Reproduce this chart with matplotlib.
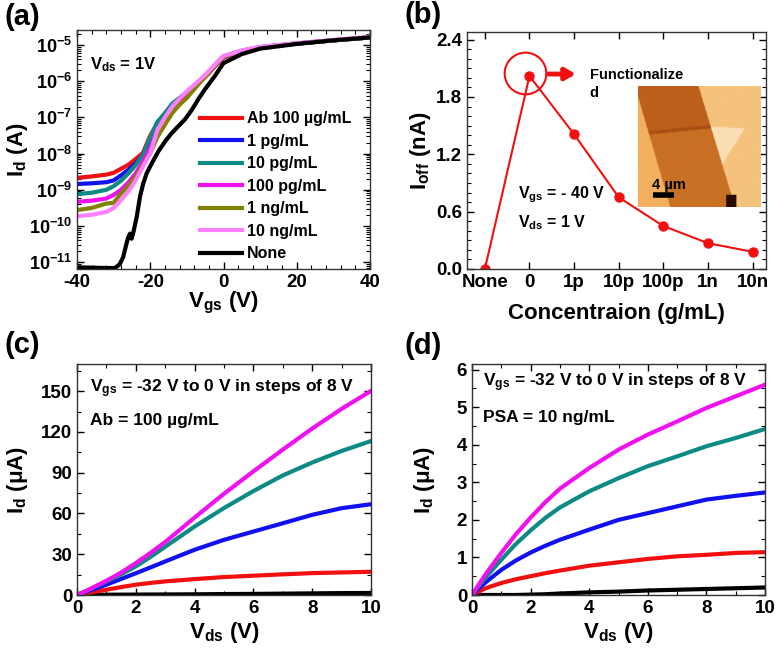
import numpy as np
import matplotlib
matplotlib.use("Agg")
import matplotlib.pyplot as plt
from matplotlib.ticker import MultipleLocator, FixedLocator, FuncFormatter, LogLocator, NullFormatter

SANS = ['Liberation Sans', 'DejaVu Sans']

plt.rcParams['font.family'] = SANS
plt.rcParams['font.weight'] = 'bold'
plt.rcParams['axes.labelweight'] = 'bold'
plt.rcParams['mathtext.fontset'] = 'custom'
plt.rcParams['mathtext.rm'] = 'Liberation Sans:bold'
plt.rcParams['mathtext.bf'] = 'Liberation Sans:bold'
plt.rcParams['mathtext.it'] = 'Liberation Sans:bold:italic'
plt.rcParams['axes.unicode_minus'] = False

# ---- (a) transfer curves, log10(Id / A) ----
vgs = [-40, -36, -32, -30, -28, -26, -24, -22, -20, -18, -16, -14, -12, -10,
       -8, -6, -4, -2, 0, 5, 10, 20, 30, 40]
log_ab = [-8.67, -8.63, -8.58, -8.53, -8.42, -8.31, -8.15, -7.98, -7.50, -7.15, -7.00, -6.78,
          -6.56, -6.37, -6.18, -5.98, -5.78, -5.55, -5.35, -5.18, -5.07, -4.96, -4.87, -4.79]
log_1pg = [-8.84, -8.82, -8.79, -8.74, -8.60, -8.45, -8.27, -8.04, -7.62, -7.13, -6.92, -6.70,
           -6.50, -6.33, -6.15, -5.95, -5.76, -5.53, -5.33, -5.17, -5.07, -4.96, -4.87, -4.79]
log_10pg = [-9.12, -9.08, -9.00, -8.90, -8.75, -8.55, -8.32, -8.04, -7.55, -7.12, -6.88, -6.62,
            -6.46, -6.30, -6.13, -5.94, -5.75, -5.52, -5.32, -5.16, -5.06, -4.96, -4.87, -4.79]
log_100pg = [-9.33, -9.30, -9.24, -9.14, -9.00, -8.80, -8.55, -8.22, -7.85, -7.34, -7.02, -6.74,
             -6.52, -6.32, -6.14, -5.95, -5.75, -5.52, -5.32, -5.16, -5.06, -4.96, -4.87, -4.79]
log_1ng = [-9.56, -9.50, -9.38, -9.36, -9.10, -8.90, -8.64, -8.32, -7.99, -7.53, -7.20, -6.88,
           -6.65, -6.46, -6.22, -5.98, -5.77, -5.53, -5.32, -5.16, -5.06, -4.96, -4.87, -4.79]
log_10ng = [-9.73, -9.69, -9.61, -9.50, -9.29, -9.05, -8.74, -8.36, -7.99, -7.34, -7.00, -6.70,
            -6.48, -6.28, -6.10, -5.92, -5.72, -5.50, -5.30, -5.15, -5.05, -4.95, -4.86, -4.77]
vgs_none = [-40, -36, -32, -29.6, -28.3, -27.4, -26.5, -26, -25.5, -25.1, -24.6, -23.7, -22.8,
            -21.9, -21, -19.6, -17.8, -16, -14.2, -12.4, -10.5, -8.7, -6.9, -5.1, -2.4, 0,
            5, 10, 20, 30, 40]
log_none = [-11.14, -11.15, -11.16, -11.16, -11.05, -10.86, -10.49, -10.31, -10.21, -10.35,
            -10.17, -9.75, -9.19, -8.82, -8.55, -8.27, -7.94, -7.67, -7.44, -7.25, -7.05,
            -6.80, -6.50, -6.23, -5.86, -5.50, -5.25, -5.10, -4.97, -4.87, -4.79]

series_a = [("Ab 100 \u00b5g/mL", log_ab, "#f01010"),
            ("1 pg/mL", log_1pg, "#1010f0"),
            ("10 pg/mL", log_10pg, "#0e8a84"),
            ("100 pg/mL", log_100pg, "#f010f0"),
            ("1 ng/mL", log_1ng, "#828200"),
            ("10 ng/mL", log_10ng, "#ff80ff")]

# ---- (b) off current vs concentration ----
conc = ["None", "0", "1p", "10p", "100p", "1n", "10n"]
ioff = [0.0, 2.02, 1.41, 0.75, 0.45, 0.27, 0.18]

# ---- (c), (d) output curves, Vgs = -32, -24, -16, -8, 0 V ----
vds = [0, 0.25, 0.5, 1, 1.5, 2, 2.5, 3, 4, 5, 6, 7, 8, 9, 10]
c_m32 = [0, 0.05, 0.1, 0.2, 0.25, 0.3, 0.35, 0.4, 0.5, 0.7, 0.8, 1.0, 1.2, 1.4, 1.5]
c_m24 = [0, 1.0, 2.0, 3.9, 5.8, 7.6, 8.9, 10.0, 11.7, 13.2, 14.2, 15.2, 16.1, 16.6, 17.1]
c_m16 = [0, 1.9, 3.8, 7.6, 11.8, 16.0, 20.3, 24.7, 33.3, 40.6, 46.7, 52.8, 59.0, 63.9, 66.8]
c_m8 = [0, 2.4, 4.8, 10.0, 15.2, 21.0, 28.0, 35.5, 50.4, 64.0, 76.5, 88.0, 97.5, 106.0, 113.3]
c_0 = [0, 2.4, 5.0, 10.5, 16.5, 23.5, 31.0, 39.0, 57.0, 74.5, 91.0, 107.0, 122.5, 137.0, 150.2]
d_m32 = [0, 0.0, 0.0, 0.0, 0.0, 0.01, 0.02, 0.04, 0.07, 0.09, 0.12, 0.14, 0.16, 0.18, 0.20]
d_m24 = [0, 0.10, 0.19, 0.32, 0.42, 0.50, 0.58, 0.65, 0.78, 0.87, 0.96, 1.03, 1.07, 1.12, 1.14]
d_m16 = [0, 0.19, 0.36, 0.67, 0.92, 1.13, 1.31, 1.47, 1.74, 2.00, 2.18, 2.36, 2.54, 2.64, 2.73]
d_m8 = [0, 0.26, 0.50, 0.94, 1.36, 1.72, 2.05, 2.33, 2.76, 3.11, 3.43, 3.69, 3.96, 4.18, 4.42]
d_0 = [0, 0.30, 0.59, 1.12, 1.62, 2.06, 2.47, 2.83, 3.38, 3.87, 4.27, 4.62, 4.98, 5.29, 5.60]
out_colors = ["black", "#f01010", "#1010f0", "#0e8a84", "#f010f0"]

W, H = 778, 651
fig = plt.figure(figsize=(W / 100, H / 100), dpi=100)


def add_ax(left, top, right, bottom):
    return fig.add_axes([left / W, 1 - bottom / H, (right - left) / W, (bottom - top) / H])


def style(ax):
    ax.tick_params(which='both', direction='in', top=True, right=True, labelsize=13.5)
    ax.tick_params(which='major', length=5, width=1)
    ax.tick_params(which='minor', length=3, width=0.8)
    for s in ax.spines.values():
        s.set_linewidth(1)
        s.set_color('#333333')
    for lab in ax.get_xticklabels() + ax.get_yticklabels():
        lab.set_fontweight('bold')


def labels(ax, xl, yl, xpos, ypos):
    ax.set_xlabel(xl, fontsize=16, fontweight='bold', va='top')
    ax.set_ylabel(yl, fontsize=16, fontweight='bold')
    ax.xaxis.set_label_coords(0.5, xpos)
    ax.yaxis.set_label_coords(ypos, 0.5)


def panel(x, y, s):
    fig.text(x / W, 1 - y / H, s, fontsize=21, fontweight='bold', va='center')


# (a)
ax = add_ax(77, 30, 370, 269)
for name, vals, col in series_a:
    ax.plot(vgs, 10.0 ** np.array(vals), color=col, lw=3, label=name)
ax.plot(vgs_none, 10.0 ** np.array(log_none), color='black', lw=3, label='None')
ax.set_yscale('log')
ax.set_xlim(-40, 40)
ax.set_ylim(6.5e-12, 2.6e-5)
ax.xaxis.set_major_locator(MultipleLocator(20))
ax.xaxis.set_minor_locator(MultipleLocator(4))
ax.yaxis.set_major_locator(LogLocator(base=10, numticks=20))
ax.yaxis.set_minor_locator(LogLocator(base=10, subs=np.arange(2, 10), numticks=20))
ax.yaxis.set_minor_formatter(NullFormatter())
ax.yaxis.set_major_formatter(FuncFormatter(lambda v, p: r'$\rm 10^{%d}$' % round(np.log10(v))))
style(ax)
ax.tick_params(axis='y', labelsize=13)
labels(ax, r'V$_{\rm gs}$ (V)', r'I$_{\rm d}$ (A)', -0.088, -0.16)
ax.text(-36.5, 2.8e-6, r'V$_{\rm ds}$ = 1V', fontsize=12, fontweight='bold', va='center')
ax.legend(loc='upper left', bbox_to_anchor=(0.42, 0.66), frameon=False,
          handlelength=2.6, handletextpad=0.35, labelspacing=0.47, borderpad=0, borderaxespad=0,
          prop={'weight': 'bold', 'size': 11.5})
panel(4, 17, '(a)')

# (b)
ax = add_ax(467, 32, 766, 269)
xb = np.arange(len(conc))
ax.plot(xb, ioff, color='#f01010', lw=1.5, marker='o', markersize=6.5)
ax.plot([0.9], [2.05], marker='o', markersize=30, markerfacecolor='none',
        markeredgecolor='#f01010', markeredgewidth=1.5)
ax.annotate('', xy=(2.1, 2.04), xytext=(1.35, 2.04),
            arrowprops=dict(arrowstyle='-|>,head_length=0.6,head_width=0.35', lw=3.5,
                            color='#f01010'))
ax.text(2.35, 1.94, 'Functionalize\nd', fontsize=10.5, fontweight='bold', va='center',
        linespacing=1.35)
ax.text(0.75, 0.775, r'V$_{\rm gs}$ = - 40 V', fontsize=11.5, fontweight='bold', va='center')
ax.text(0.75, 0.49, r'V$_{\rm ds}$ = 1 V', fontsize=11.5, fontweight='bold', va='center')
ax.set_xlim(-0.4, 6.3)
ax.set_ylim(0, 2.48)
ax.set_xticks(xb)
ax.set_xticklabels(conc)
ax.yaxis.set_major_locator(FixedLocator([0.0, 0.6, 1.2, 1.8, 2.4]))
ax.yaxis.set_major_formatter(FuncFormatter(lambda v, p: '%.1f' % v))
ax.yaxis.set_minor_locator(MultipleLocator(0.1))
style(ax)
labels(ax, 'Concentraion (g/mL)', r'I$_{\rm off}$ (nA)', -0.143, -0.114)
panel(405, 15, '(b)')

# inset AFM picture in (b): flake band across the substrate
ins = fig.add_axes([638 / W, 1 - 207 / H, 123 / W, 121 / H])
yy, xx = np.mgrid[0:1:180j, 0:1:180j]
right_edge = 0.49 + 0.30 * yy
left_edge = 0.29 * (yy - 0.1)
img = np.zeros(xx.shape + (3,))
img[:] = np.array([242, 176, 96]) / 255
band = (xx >= left_edge) & (xx < right_edge)
img[band] = np.array([200, 112, 36]) / 255
ledge = 0.40 - 0.10 * xx
img[band & (yy < ledge)] = np.array([188, 96, 26]) / 255
img[band & (np.abs(yy - ledge) < 0.015)] = np.array([170, 80, 20]) / 255
right = xx >= right_edge
img[right] = np.array([245, 194, 125]) / 255
tri = right & (yy > 0.34 + 0.05 * (xx - 0.6)) & (xx < 0.88) & (yy < 0.34 + 1.6 * (0.88 - xx))
img[tri] = np.array([250, 222, 180]) / 255
img[(np.abs(xx - 0.76) < 0.04) & (yy > 0.9)] = np.array([40, 12, 0]) / 255
ins.imshow(img, extent=(0, 1, 0, 1), aspect='auto', interpolation='bilinear')
ins.plot([0.12, 0.29], [0.1, 0.1], color='black', lw=4, solid_capstyle='butt')
ins.text(0.11, 0.12, '4 \u00b5m', fontsize=10.5, fontweight='bold', va='bottom')
ins.set_xlim(0, 1)
ins.set_ylim(0, 1)
ins.axis('off')

# (c)
ax = add_ax(77, 364, 371, 595)
for vals, col in zip([c_m32, c_m24, c_m16, c_m8, c_0], out_colors):
    ax.plot(vds, vals, color=col, lw=3)
ax.set_xlim(0, 10)
ax.set_ylim(0, 170)
ax.xaxis.set_major_locator(MultipleLocator(2))
ax.xaxis.set_minor_locator(MultipleLocator(1))
ax.yaxis.set_major_locator(MultipleLocator(30))
ax.yaxis.set_minor_locator(MultipleLocator(15))
style(ax)
labels(ax, r'V$_{\rm ds}$ (V)', r'I$_{\rm d}$ ($\rm \mu$A)', -0.108, -0.16)
ax.text(0.44, 152, r'V$_{\rm gs}$ = -32 V to 0 V in steps of 8 V', fontsize=12.5,
        fontweight='bold', va='center')
ax.text(0.44, 128.5, 'Ab = 100 \u00b5g/mL', fontsize=12.5, fontweight='bold', va='center')
panel(4, 345, '(c)')

# (d)
ax = add_ax(472, 364, 765, 595)
for vals, col in zip([d_m32, d_m24, d_m16, d_m8, d_0], out_colors):
    ax.plot(vds, vals, color=col, lw=3)
ax.set_xlim(0, 10)
ax.set_ylim(0, 6.15)
ax.xaxis.set_major_locator(MultipleLocator(2))
ax.xaxis.set_minor_locator(MultipleLocator(1))
ax.yaxis.set_major_locator(MultipleLocator(1))
ax.yaxis.set_minor_locator(MultipleLocator(0.5))
style(ax)
labels(ax, r'V$_{\rm ds}$ (V)', r'I$_{\rm d}$ ($\rm \mu$A)', -0.108, -0.12)
ax.text(0.38, 5.65, r'V$_{\rm gs}$ = -32 V to 0 V in steps of 8 V', fontsize=12.5,
        fontweight='bold', va='center')
ax.text(0.38, 4.72, 'PSA = 10 ng/mL', fontsize=12.5, fontweight='bold', va='center')
panel(405, 346, '(d)')

fig.savefig('out.png', dpi=100)
